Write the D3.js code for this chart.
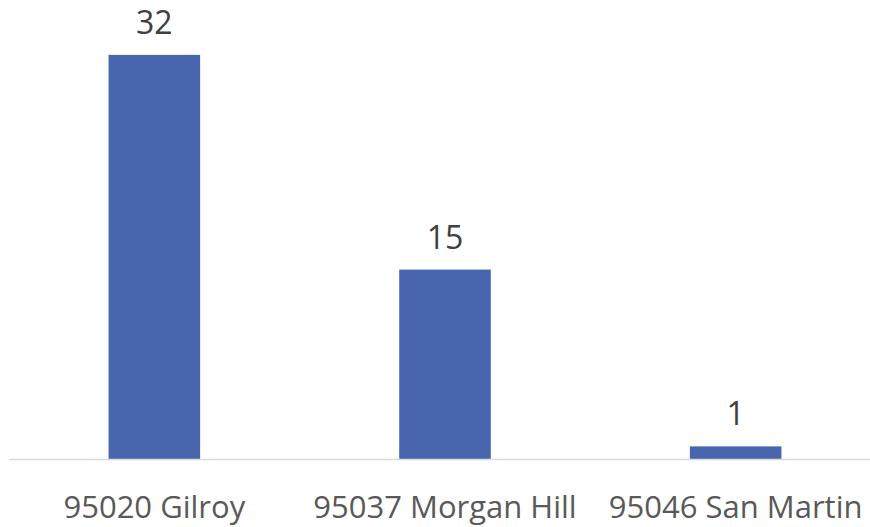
<!DOCTYPE html>
<html>
<head>
<meta charset="utf-8">
<script src="https://cdn.jsdelivr.net/npm/d3@7"></script>
<style>
  body { margin: 0; background: #fff; }
  svg { display: block; font-family: "Open Sans", sans-serif; }
</style>
</head>
<body>
<div id="chart"></div>
<script>
const categories = ['95020 Gilroy', '95037 Morgan Hill', '95046 San Martin'];
const counts = [32, 15, 1];

const width = 870;
const height = 527;
const baseline = 459;

const svg = d3.select('#chart')
  .append('svg')
  .attr('width', width)
  .attr('height', height);

const x = d3.scaleBand()
  .domain(categories)
  .range([9, 881])
  .paddingInner(0.685)
  .paddingOuter(0.3425);

const y = d3.scaleLinear()
  .domain([0, 35])
  .range([baseline, 17]);

// bars
svg.selectAll('.bar')
  .data(categories)
  .enter()
  .append('rect')
  .attr('class', 'bar')
  .attr('x', d => x(d))
  .attr('y', (d, i) => y(counts[i]))
  .attr('width', x.bandwidth())
  .attr('height', (d, i) => baseline - y(counts[i]))
  .attr('fill', '#4865ad');

// value labels
svg.selectAll('.val')
  .data(categories)
  .enter()
  .append('text')
  .attr('class', 'val')
  .attr('x', d => x(d) + x.bandwidth() / 2)
  .attr('y', (d, i) => y(counts[i]) - 21)
  .attr('text-anchor', 'middle')
  .style('font-size', '32px')
  .attr('fill', '#404040')
  .text((d, i) => counts[i]);

// x axis
const xAxis = svg.append('g')
  .attr('transform', `translate(0,${baseline + 0.5})`)
  .call(d3.axisBottom(x).tickSize(0).tickPadding(0));

xAxis.select('.domain')
  .attr('d', `M9,0H${width}`)
  .attr('stroke', '#d9d9d9')
  .attr('stroke-width', 1.5);

xAxis.selectAll('.tick text')
  .attr('y', 58)
  .attr('dy', null)
  .style('font-family', '"Open Sans", sans-serif')
  .style('font-size', '31px')
  .attr('fill', '#595959');
</script>
</body>
</html>
